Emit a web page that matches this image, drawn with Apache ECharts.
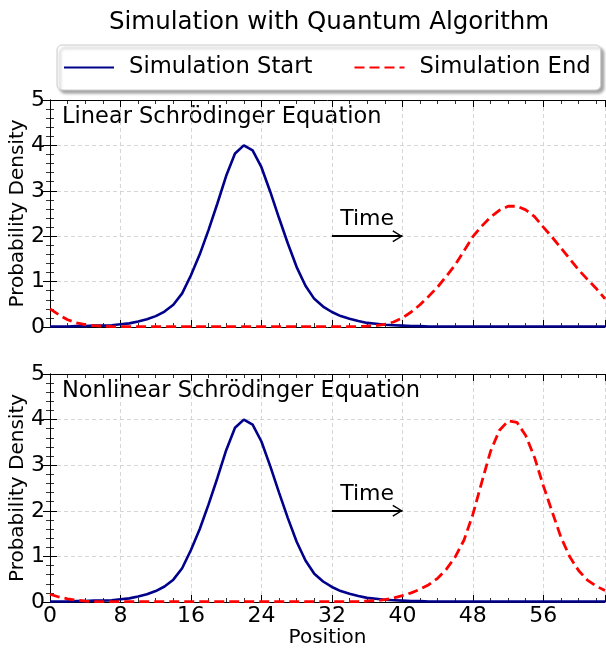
<!DOCTYPE html>
<html>
<head>
<meta charset="utf-8">
<script src="https://cdn.jsdelivr.net/npm/echarts@6/dist/echarts.min.js"></script>
<style>
  html, body { margin: 0; padding: 0; background: #fff; }
  #chart { width: 606px; height: 648px; }
</style>
</head>
<body>
<div id="chart"></div>
<script>
// grid positions 0..63
var positions = [0,1,2,3,4,5,6,7,8,9,10,11,12,13,14,15,16,17,18,19,20,21,22,23,24,25,26,27,28,29,30,31,
  32,33,34,35,36,37,38,39,40,41,42,43,44,45,46,47,48,49,50,51,52,53,54,55,56,57,58,59,60,61,62,63];

// initial wave packet (same in both panels)
var startDensity = [0.01,0.01,0.01,0.02,0.02,0.03,0.03,0.04,0.06,0.08,0.12,0.17,0.24,0.34,0.49,0.74,
  1.14,1.6,2.14,2.72,3.33,3.82,4.0,3.89,3.52,2.98,2.4,1.84,1.32,0.91,0.62,0.45,
  0.33,0.24,0.18,0.13,0.09,0.07,0.05,0.04,0.03,0.02,0.02,0.01,0.01,0.01,0.01,0.01,
  0.01,0.01,0.01,0.01,0.01,0.01,0.01,0.01,0.01,0.01,0.01,0.01,0.01,0.01,0.01,0.01];

// linear equation, end of simulation (dispersed)
var linearEnd = [0.4,0.27,0.16,0.09,0.05,0.03,0.02,0.01,0.01,0.01,0.01,0.01,0.01,0.01,0.01,0.01,
  0.01,0.01,0.01,0.01,0.01,0.01,0.01,0.01,0.01,0.01,0.01,0.01,0.01,0.01,0.01,0.01,
  0.01,0.01,0.01,0.01,0.02,0.03,0.06,0.11,0.2,0.33,0.49,0.68,0.88,1.12,1.37,1.68,
  1.99,2.22,2.42,2.57,2.66,2.66,2.58,2.43,2.2,1.98,1.74,1.5,1.26,1.05,0.85,0.62];

// nonlinear equation, end of simulation (soliton)
var nonlinearEnd = [0.17,0.11,0.07,0.04,0.02,0.01,0.01,0.01,0.01,0.01,0.01,0.01,0.01,0.01,0.01,0.01,
  0.01,0.01,0.01,0.01,0.01,0.01,0.01,0.01,0.01,0.01,0.01,0.01,0.01,0.01,0.01,0.01,
  0.01,0.01,0.01,0.01,0.02,0.03,0.05,0.09,0.14,0.2,0.28,0.38,0.52,0.72,0.99,1.36,
  1.92,2.62,3.3,3.76,3.97,3.94,3.65,3.17,2.55,1.98,1.42,0.99,0.69,0.48,0.35,0.25];

var xTicks = [0, 8, 16, 24, 32, 40, 48, 56];
var yTicks = [0, 1, 2, 3, 4, 5];
var timeArrow = { from: 32, to: 40, y: 2 };

var FONT = "DejaVu Sans";

function pairs(ys) {
  return positions.map(function (x, i) { return [x, ys[i]]; });
}

function xAxesFor(grid, showLabels) {
  var base = {
    type: "value", gridIndex: grid, min: 0, max: 63,
    axisLine: { show: true, lineStyle: { color: "#000", width: 1 } },
    axisLabel: { show: false },
    splitLine: { show: false },
  };
  var major = Object.assign({}, base, {
    position: "bottom", interval: 8,
    axisTick: { show: true, inside: true, length: 7, lineStyle: { color: "#000", width: 1 } },
    axisLabel: {
      show: showLabels, fontSize: 22, color: "#000", fontFamily: FONT, margin: 3,
      formatter: function (v) { return xTicks.indexOf(v) >= 0 ? String(v) : ""; },
    },
    splitLine: { show: true, lineStyle: { color: "#cccccc", width: 0.8, type: [4, 3] } },
  });
  if (showLabels) {
    major.name = "Position";
    major.nameLocation = "middle";
    major.nameGap = 25;
    major.nameTextStyle = { fontSize: 20, color: "#000", fontFamily: FONT };
  }
  var minor = Object.assign({}, base, {
    position: "bottom", interval: 2,
    axisLine: { show: false },
    axisTick: { show: true, inside: true, length: 4, lineStyle: { color: "#000", width: 0.8 } },
  });
  var majorTop = Object.assign({}, base, {
    position: "top", interval: 8,
    axisTick: { show: true, inside: true, length: 7, lineStyle: { color: "#000", width: 1 } },
  });
  var minorTop = Object.assign({}, minor, { position: "top" });
  return [major, minor, majorTop, minorTop];
}

function yAxesFor(grid) {
  var base = {
    type: "value", gridIndex: grid, min: yTicks[0], max: yTicks[yTicks.length - 1], interval: 1,
    axisLine: { show: true, lineStyle: { color: "#000", width: 1 } },
    axisTick: { show: true, inside: true, length: 7, lineStyle: { color: "#000", width: 1 } },
    minorTick: { show: true, splitNumber: 5, length: 4, lineStyle: { color: "#000", width: 0.8 } },
  };
  var left = Object.assign({}, base, {
    position: "left",
    name: "Probability Density", nameLocation: "middle", nameGap: 22, nameRotate: 90,
    nameMoveOverlap: false,
    nameTextStyle: { fontSize: 20, color: "#000", fontFamily: FONT },
    axisLabel: { show: true, fontSize: 22, color: "#000", fontFamily: FONT, margin: 5 },
    splitLine: { show: true, lineStyle: { color: "#cccccc", width: 0.8, type: [4, 3] } },
  });
  var right = Object.assign({}, base, {
    position: "right",
    axisLabel: { show: false },
    splitLine: { show: false },
  });
  return [left, right];
}

function arrowMark() {
  return {
    silent: true,
    // open arrow head; the dummy point keeps the tip at the symbol centre
    symbol: ["none", "path://M5,-10 L5.01,-10 Z M0,10 L5,0 L10,10 L9,10.9 L5,2.4 L1,10.9 Z"],
    symbolSize: [12, 20],
    lineStyle: { color: "#000", width: 2, type: "solid" },
    label: { show: true, position: "middle", formatter: "Time", fontSize: 22, color: "#000", fontFamily: FONT, distance: 6 },
    data: [[{ coord: [timeArrow.from, timeArrow.y] }, { coord: [timeArrow.to, timeArrow.y] }]],
  };
}

function startSeries(xi, yi) {
  return {
    name: "Simulation Start", type: "line", xAxisIndex: xi, yAxisIndex: yi,
    data: pairs(startDensity), showSymbol: false, symbol: "none",
    lineStyle: { color: "#00008b", width: 2.6 }, itemStyle: { color: "#00008b" },
    markLine: arrowMark(),
  };
}

function endSeries(xi, yi, ys) {
  return {
    name: "Simulation End", type: "line", xAxisIndex: xi, yAxisIndex: yi,
    data: pairs(ys), showSymbol: false, symbol: "none",
    lineStyle: { color: "#ff0000", width: 2.8, type: [10, 5] }, itemStyle: { color: "#ff0000" },
  };
}

var chart = echarts.init(document.getElementById("chart"));
var option = {
  animation: false,
  backgroundColor: "#fff",
  textStyle: { fontFamily: FONT },
  title: {
    text: "Simulation with Quantum Algorithm",
    left: 104, top: 5,
    textStyle: { fontSize: 24.5, fontWeight: "normal", color: "#000", fontFamily: FONT },
  },
  legend: {
    left: 57, top: 45, width: 600,
    data: ["Simulation Start", "Simulation End"],
    itemWidth: 50, itemHeight: 14, itemGap: 41,
    padding: [11, 10, 11, 6],
    textStyle: { fontSize: 22.7, color: "#000", fontFamily: FONT, padding: [0, 0, 0, 10] },
    itemStyle: { opacity: 0 },
    backgroundColor: "#fff", borderColor: "#cccccc", borderWidth: 1, borderRadius: 5,
    shadowColor: "rgba(0,0,0,0.35)", shadowBlur: 3, shadowOffsetX: 3, shadowOffsetY: 3,
  },
  grid: [
    { left: 50, top: 100, width: 555, height: 227, outerBoundsMode: "none" },
    { left: 50, top: 374, width: 555, height: 228, outerBoundsMode: "none" },
  ],
  xAxis: xAxesFor(0, false).concat(xAxesFor(1, true)),
  yAxis: yAxesFor(0).concat(yAxesFor(1)),
  graphic: [
    { type: "text", left: 62, top: 106, style: { text: "Linear Schrödinger Equation", fontSize: 22.5, fill: "#000", fontFamily: FONT } },
    { type: "text", left: 62, top: 380, style: { text: "Nonlinear Schrödinger Equation", fontSize: 22.5, fill: "#000", fontFamily: FONT } },
  ],
  series: [
    startSeries(0, 0),
    endSeries(0, 0, linearEnd),
    startSeries(4, 2),
    endSeries(4, 2, nonlinearEnd),
  ],
};
chart.setOption(option);
</script>
</body>
</html>
